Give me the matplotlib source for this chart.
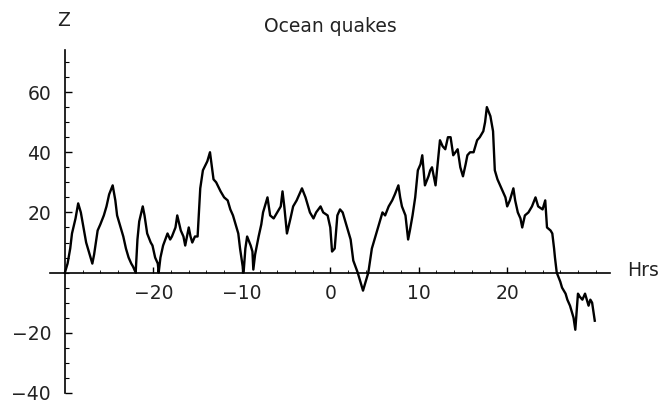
import matplotlib
matplotlib.use("Agg")
import matplotlib.pyplot as plt
import numpy as np

# values (hours, Z)
hrs = [-30.0, -29.7, -29.4, -29.2, -28.8, -28.5, -28.2, -27.9, -27.6, -27.2,
       -26.9, -26.7, -26.3, -26.0, -25.6, -25.3, -25.0, -24.6, -24.3, -24.1,
       -23.7, -23.4, -23.1, -22.8, -22.5, -22.3, -22.0, -21.8, -21.6, -21.2,
       -21.0, -20.7, -20.3, -20.1, -19.8, -19.5, -19.4, -19.2, -18.9, -18.4,
       -18.1, -17.9, -17.5, -17.3, -16.9, -16.6, -16.4, -16.0, -15.8, -15.6,
       -15.3, -15.0, -14.7, -14.4, -13.9, -13.6, -13.2, -12.9, -12.4, -12.0,
       -11.6, -11.3, -11.0, -10.6, -10.4, -10.2, -9.9, -9.8, -9.6, -9.4,
       -9.0, -8.8, -8.7, -8.5, -8.1, -7.8, -7.6, -7.3, -7.1, -6.8,
       -6.4, -6.0, -5.6, -5.4, -5.2, -4.9, -4.5, -4.2, -3.8, -3.5,
       -3.2, -2.8, -2.6, -2.3, -1.9, -1.6, -1.1, -0.8, -0.3, 0.0,
       0.2, 0.5, 0.8, 1.1, 1.4, 1.7, 2.0, 2.3, 2.6, 3.1,
       3.4, 3.7, 4.0, 4.3, 4.5, 4.7, 5.1, 5.3, 5.6, 5.9,
       6.2, 6.6, 7.0, 7.3, 7.7, 7.9, 8.1, 8.5, 8.8, 9.0,
       9.3, 9.6, 9.9, 10.2, 10.4, 10.7, 11.1, 11.3, 11.5, 11.9,
       12.2, 12.4, 12.7, 13.0, 13.3, 13.6, 13.9, 14.4, 14.7, 15.0,
       15.3, 15.5, 15.8, 16.2, 16.4, 16.6, 16.9, 17.3, 17.5, 17.7,
       18.1, 18.4, 18.6, 18.9, 19.2, 19.5, 19.8, 20.0, 20.3, 20.7,
       20.9, 21.2, 21.5, 21.7, 22.0, 22.4, 22.8, 23.2, 23.5, 24.0,
       24.3, 24.5, 24.9, 25.1, 25.3, 25.4, 25.6, 26.0, 26.2, 26.6,
       26.8, 27.1, 27.5, 27.7, 27.9, 28.0, 28.2, 28.5, 28.8, 29.2,
       29.4, 29.6, 29.9]
z = [0, 3, 8, 13, 18, 23, 20, 15, 10, 6,
     3, 6, 14, 16, 19, 22, 26, 29, 24, 19,
     15, 12, 8, 5, 3, 2, 0, 11, 17, 22,
     19, 13, 10, 9, 5, 3, 0, 5, 9, 13,
     11, 12, 15, 19, 14, 12, 9, 15, 12, 10,
     12, 12, 28, 34, 37, 40, 31, 30, 27, 25,
     24, 21, 19, 15, 13, 8, 2, 0, 8, 12,
     9, 7, 1, 6, 12, 16, 20, 23, 25, 19,
     18, 20, 22, 27, 22, 13, 18, 22, 24, 26,
     28, 25, 23, 20, 18, 20, 22, 20, 19, 15,
     7, 8, 19, 21, 20, 17, 14, 11, 4, 0,
     -3, -6, -3, 0, 4, 8, 12, 14, 17, 20,
     19, 22, 24, 26, 29, 25, 22, 19, 11, 14,
     19, 25, 34, 36, 39, 29, 32, 34, 35, 29,
     38, 44, 42, 41, 45, 45, 39, 41, 35, 32,
     36, 39, 40, 40, 42, 44, 45, 47, 50, 55,
     52, 47, 34, 31, 29, 27, 25, 22, 24, 28,
     24, 20, 18, 15, 19, 20, 22, 25, 22, 21,
     24, 15, 14, 13, 8, 5, 0, -3, -5, -7,
     -9, -11, -15, -19, -11, -7, -8, -9, -7, -11,
     -9, -10, -16]

xticks = [-20, -10, 0, 10, 20]
yticks = [-40, -20, 20, 40, 60]

plt.rcParams['font.family'] = ['DejaVu Sans']
fs = 13.5
txt = '#222222'

fig = plt.figure(figsize=(6.65, 4.03), dpi=100)
ax = fig.add_axes([0.075, 0.025, 0.842, 0.851])

ax.plot(hrs, z, color='black', linewidth=1.7)

ax.set_xlim(-31.7, 31.6)
ax.set_ylim(-40, 74)

# axes cross like Mathematica: x axis at z=0, y axis at the first hour
ax.spines['top'].set_visible(False)
ax.spines['right'].set_visible(False)
ax.spines['bottom'].set_position(('data', 0))
ax.spines['left'].set_position(('data', hrs[0]))
ax.spines['bottom'].set_linewidth(1.2)
ax.spines['left'].set_linewidth(1.2)

ax.set_xticks(xticks)
ax.set_xticklabels([str(t).replace('-', '\u2212') for t in xticks])
ax.set_yticks(yticks)
ax.set_yticklabels([str(t).replace('-', '\u2212') for t in yticks])
ax.set_yticks(np.arange(-40, 75, 5), minor=True)
ax.set_xticks(np.arange(-30, 31, 2), minor=True)

ax.tick_params(axis='x', which='major', direction='in', length=4, width=1,
               pad=8, labelsize=fs, labelcolor=txt)
ax.tick_params(axis='x', which='minor', direction='in', length=2, width=0.6)
ax.tick_params(axis='y', which='major', direction='in', length=5, width=1,
               pad=10, labelsize=fs, labelcolor=txt)
ax.tick_params(axis='y', which='minor', direction='in', length=3, width=0.8)

fig.text(64 / 665, 1 - 20 / 403, 'Z', ha='center', va='center', fontsize=fs,
         color=txt)
fig.text(330 / 665, 1 - 26 / 403, 'Ocean quakes', ha='center', va='center',
         fontsize=fs, color=txt)
fig.text(627 / 665, 1 - 271 / 403, 'Hrs', ha='left', va='center', fontsize=fs,
         color=txt)

fig.savefig('out.png', dpi=100)
